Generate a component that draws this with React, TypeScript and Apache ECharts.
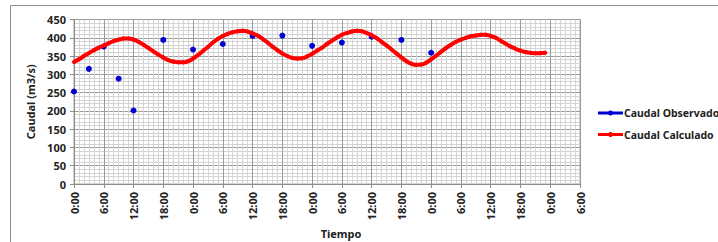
import React, { useEffect, useRef } from "react";
import * as echarts from "echarts";

// Observed discharge: hours since start and values (m3/s)
const obsHours = [0, 3, 6, 9, 12, 18, 24, 30, 36, 42, 48, 54, 60, 66, 72];
const obsValues = [253, 315, 376, 288, 201, 394, 368, 383, 405, 406, 378, 387, 403, 394, 359];

// Calculated discharge, hourly from hour 0
const calcValues = [
  334, 341, 350, 358, 366, 373, 379, 385, 391, 395, 398, 398, 395, 389, 381, 372,
  363, 354, 346, 339, 335, 333, 333, 336, 343, 353, 364, 375, 387, 397, 405, 411,
  415, 418, 419, 417, 412, 406, 397, 387, 376, 366, 357, 350, 345, 343, 344, 349,
  356, 365, 373, 383, 392, 401, 408, 413, 417, 419, 418, 413, 407, 399, 389, 379,
  368, 357, 346, 336, 329, 326, 327, 332, 341, 351, 362, 372, 381, 389, 395, 400,
  404, 406, 408, 408, 405, 400, 392, 384, 376, 370, 365, 361, 359, 358, 358, 359,
];

const seriesNames = ["Caudal Observado", "Caudal Calculado"];
const seriesColors = ["#0000d0", "#ff0000"];
const xTitle = "Tiempo";
const yTitle = "Caudal (m3/s)";

export default function App() {
  const ref = useRef<HTMLDivElement>(null);
  useEffect(() => {
    if (!ref.current) return;
    const chart = echarts.init(ref.current, null, { renderer: "svg" });
    const font = "'Noto Sans', sans-serif";
    const labelStyle = { fontFamily: font, fontSize: 11, fontWeight: "bold" as const, color: "#222" };
    const legendItems = seriesNames.map((name, i) => {
      const y = 113 + i * 21.5;
      return {
        type: "group",
        children: [
          { type: "line", shape: { x1: 598, y1: y, x2: 623, y2: y }, style: { stroke: seriesColors[i], lineWidth: 3 } },
          { type: "circle", shape: { cx: 610.5, cy: y, r: 2.5 }, style: { fill: seriesColors[i] } },
          {
            type: "text",
            x: 624,
            y,
            style: { text: name, fontFamily: font, fontSize: 10.5, fontWeight: "bold", fill: "#222", verticalAlign: "middle", align: "left" },
          },
        ],
      };
    });
    chart.setOption({
      animation: false,
      backgroundColor: "#fff",
      grid: { left: 74, right: 138, top: 19.5, bottom: 58, show: true, borderColor: "#a6a6a6", borderWidth: 1 },
      graphic: [
        {
          type: "rect",
          shape: { x: 10.5, y: 5.5, width: 720, height: 260 },
          style: { fill: "none", stroke: "#8c8c8c", lineWidth: 1 },
          z: -1,
        },
        {
          type: "text",
          x: 341,
          y: 233,
          style: { text: xTitle, fontFamily: font, fontSize: 11, fontWeight: "bold", fill: "#222", align: "center", verticalAlign: "middle" },
        },
        ...legendItems,
      ],
      xAxis: {
        type: "value",
        min: 0,
        max: 102,
        interval: 6,
        axisLine: { show: true, lineStyle: { color: "#8c8c8c" } },
        axisTick: { show: true, length: 4, lineStyle: { color: "#8c8c8c" } },
        axisLabel: {
          ...labelStyle,
          rotate: 90,
          margin: 8,
          formatter: (v: number) => `${v % 24}:00`,
        },
        splitLine: { show: true, lineStyle: { color: "#9a9a9a", width: 1 } },
        minorTick: { show: false, splitNumber: 6 },
        minorSplitLine: { show: true, lineStyle: { color: "#d4d4d4", width: 1 } },
      },
      yAxis: {
        type: "value",
        min: 0,
        max: 450,
        interval: 50,
        name: yTitle,
        nameLocation: "middle",
        nameGap: 36,
        nameTextStyle: { fontFamily: font, fontSize: 11, fontWeight: "bold", color: "#222" },
        axisLine: { show: true, lineStyle: { color: "#8c8c8c" } },
        axisTick: { show: true, length: 4, lineStyle: { color: "#8c8c8c" } },
        axisLabel: { ...labelStyle, margin: 8 },
        splitLine: { show: true, lineStyle: { color: "#9a9a9a", width: 1 } },
        minorTick: { show: false, splitNumber: 5 },
        minorSplitLine: { show: true, lineStyle: { color: "#d4d4d4", width: 1 } },
      },
      series: [
        {
          name: seriesNames[0],
          type: "line",
          data: obsHours.map((h, i) => [h, obsValues[i]]),
          symbol: "circle",
          symbolSize: 6,
          itemStyle: { color: seriesColors[0] },
          lineStyle: { width: 0, color: seriesColors[0] },
          z: 3,
        },
        {
          name: seriesNames[1],
          type: "line",
          data: calcValues.map((v, i) => [i, v]),
          symbol: "circle",
          symbolSize: 4,
          smooth: true,
          itemStyle: { color: seriesColors[1] },
          lineStyle: { width: 4, color: seriesColors[1] },
          z: 4,
        },
      ],
    });
    return () => chart.dispose();
  }, []);
  return <div ref={ref} style={{ position: "fixed", left: 0, top: 0, width: 718, height: 242 }} />;
}
